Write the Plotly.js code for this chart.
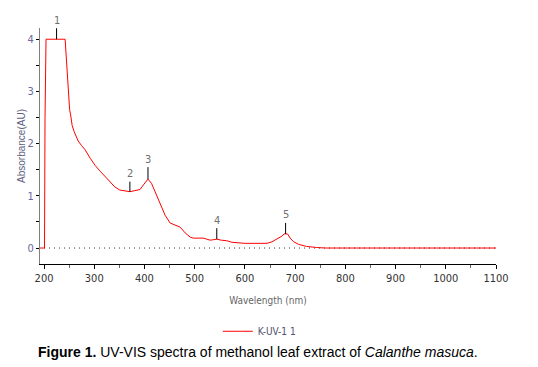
<!DOCTYPE html>
<html>
<head>
<meta charset="utf-8">
<script src="https://cdn.plot.ly/plotly-3.0.1.min.js"></script>
<style>html,body{margin:0;padding:0;background:#fff;}#chart{width:538px;height:367px;}</style>
</head>
<body>
<div id="chart"></div>
<script>
// Spectrum data (wavelength nm, absorbance AU)
const wavelength = [192, 201, 202, 204, 242, 243, 245, 247, 249, 251, 253, 256, 260, 264, 268, 275, 282, 292, 302, 312, 322, 332, 341, 351, 361, 371, 381, 391, 398, 407, 414, 421, 428, 434, 441, 451, 461, 471, 481, 491, 497, 507, 517, 524, 531, 538, 544, 553, 564, 574, 587, 600, 620, 644, 654, 664, 674, 678, 685, 690, 697, 707, 723, 743, 760, 900, 1100];
const absorbance = [0, 0, 2.5, 4.0, 4.0, 3.85, 3.6, 3.1, 2.84, 2.65, 2.55, 2.35, 2.23, 2.12, 2.05, 1.96, 1.88, 1.72, 1.58, 1.47, 1.37, 1.27, 1.17, 1.11, 1.09, 1.08, 1.10, 1.12, 1.21, 1.32, 1.24, 1.08, 0.92, 0.76, 0.63, 0.48, 0.44, 0.40, 0.29, 0.21, 0.19, 0.19, 0.19, 0.17, 0.15, 0.16, 0.17, 0.15, 0.14, 0.11, 0.10, 0.09, 0.09, 0.09, 0.12, 0.17, 0.23, 0.27, 0.27, 0.19, 0.12, 0.07, 0.03, 0.01, 0, 0, 0];
const seriesName = "K-UV-1 1";

// Peak markers
const peakLabels = ["1", "2", "3", "4", "5"];
const peakNm = [225, 371, 407, 544, 681];
const peakAU = [4.0, 1.08, 1.32, 0.17, 0.27];
const peakStem = [13, 12, 14, 13, 13];

const xTicks = [200, 300, 400, 500, 600, 700, 800, 900, 1000, 1100];
const yTicks = [0, 1, 2, 3, 4];

const narrow = '"Liberation Sans Narrow", "DejaVu Sans Condensed", Arial, sans-serif';

const annotations = peakLabels.map((t, i) => ({
  x: peakNm[i], y: peakAU[i], xref: 'x', yref: 'y',
  text: t, showarrow: true, arrowhead: 0, arrowwidth: 1, arrowcolor: '#000',
  ax: 0, ay: -(peakStem[i] + 6), standoff: 0,
  font: {family: narrow, size: 11, color: '#707070'}
}));
annotations.push({
  xref: 'paper', yref: 'paper', x: 0.477, y: -0.373, xanchor: 'center', yanchor: 'middle',
  showarrow: false,
  text: '<b>Figure 1.</b> UV-VIS spectra of methanol leaf extract of <i>Calanthe masuca</i>.',
  font: {family: '"Liberation Sans", Arial, sans-serif', size: 14, color: '#000'}
});

const data = [{
  x: wavelength, y: absorbance, type: 'scatter', mode: 'lines', name: seriesName,
  line: {color: '#ff0000', width: 1}, showlegend: true
}];

const layout = {
  width: 538, height: 367,
  margin: {l: 40, r: 42, t: 28, b: 103},
  paper_bgcolor: '#fff', plot_bgcolor: '#fff',
  showlegend: true,
  legend: {
    orientation: 'h', x: 0.39, y: -0.285, xanchor: 'left', yanchor: 'middle',
    font: {family: narrow, size: 10, color: '#505070'}, bgcolor: 'rgba(0,0,0,0)'
  },
  xaxis: {
    range: [192, 1100], showgrid: false, zeroline: false,
    showline: true, linecolor: '#000', linewidth: 1,
    tickvals: xTicks, ticks: 'outside', ticklen: 4, tickcolor: '#000',
    minor: {dtick: 50, tick0: 200, ticks: 'outside', ticklen: 3, tickcolor: '#666'},
    tickfont: {family: narrow, size: 11, color: '#333'},
    title: {text: 'Wavelength (nm)', font: {family: narrow, size: 10, color: '#666'}, standoff: 12}
  },
  yaxis: {
    range: [-0.306, 4.215], showgrid: false, zeroline: false,
    showline: true, linecolor: '#808080', linewidth: 1,
    tickvals: yTicks, ticks: 'outside', ticklen: 3, tickcolor: '#000',
    minor: {dtick: 0.5, tick0: 0, ticks: 'outside', ticklen: 3, tickcolor: '#000'},
    tickfont: {family: narrow, size: 11, color: '#6a6a9a'},
    title: {text: 'Absorbance(AU)', font: {family: '"Liberation Sans", Arial, sans-serif', size: 10, color: '#606080'}, standoff: 0}
  },
  shapes: [{
    type: 'line', xref: 'x', yref: 'y', x0: 200, x1: 1100, y0: 0, y1: 0,
    line: {color: '#333', width: 1, dash: '1px,4px'}, layer: 'below'
  }],
  annotations: annotations
};

Plotly.newPlot('chart', data, layout, {displayModeBar: false, staticPlot: true});
</script>
</body>
</html>
